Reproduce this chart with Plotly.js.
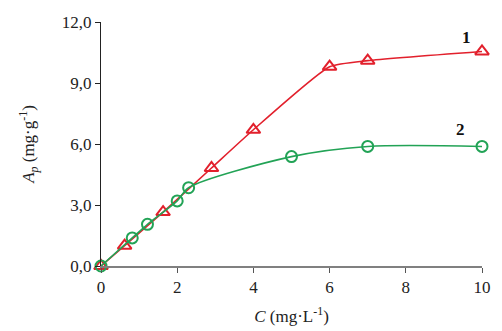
<!DOCTYPE html>
<html><head><meta charset="utf-8">
<script src="https://cdn.plot.ly/plotly-3.0.1.min.js"></script>
<style>html,body{margin:0;padding:0;background:#fff}#chart{width:502px;height:331px}</style>
</head><body><div id="chart"></div>
<script>
const x1 = [0, 0.62, 1.63, 2.9, 4.0, 6.0, 7.0, 10.0];
const y1 = [0, 1.0, 2.65, 4.82, 6.7, 9.8, 10.1, 10.55];
const x2 = [0, 0.82, 1.22, 2.0, 2.3, 5.0, 7.0, 10.0];
const y2 = [0, 1.38, 2.05, 3.2, 3.85, 5.38, 5.88, 5.88];
const yTicks = [0, 3, 6, 9, 12];
const yTickText = ["0,0", "3,0", "6,0", "9,0", "12,0"];
const xTicks = [0, 2, 4, 6, 8, 10];
const seriesLabels = ["1", "2"];
const red = "#e2202c", green = "#22a356";
const font = "'Liberation Serif', 'Times New Roman', serif";
const f16 = {family: font, size: 17, color: "#222"};
const traces = [
  {x: x1, y: y1, type: "scatter", mode: "lines+markers", cliponaxis: false,
   line: {color: red, width: 1.6, shape: "spline", smoothing: 0.5},
   marker: {symbol: "triangle-up-open", size: 12, color: red, line: {width: 2, color: red}}},
  {x: x2, y: y2, type: "scatter", mode: "lines+markers", cliponaxis: false,
   line: {color: green, width: 1.6, shape: "spline", smoothing: 0.8},
   marker: {symbol: "circle-open", size: 11, color: green, line: {width: 2, color: green}}}
];
const layout = {
  width: 502, height: 331,
  margin: {l: 101, r: 20, t: 22, b: 65},
  paper_bgcolor: "#fff", plot_bgcolor: "#fff",
  showlegend: false,
  font: f16,
  xaxis: {range: [0, 10], tickvals: xTicks, ticks: "outside", ticklen: 5, tickcolor: "#555",
    showline: true, linecolor: "#808080", linewidth: 2, showgrid: false, zeroline: false,
    tickfont: f16,
    title: {text: "<i>C</i> (mg·L<sup>-1</sup>)", font: f16, standoff: 14}},
  yaxis: {range: [0, 12], tickvals: yTicks, ticktext: yTickText, ticks: "outside", ticklen: 5, tickcolor: "#222",
    showline: true, linecolor: "#222", linewidth: 1.2, showgrid: false, zeroline: false,
    tickfont: f16,
    title: {text: "<i>A<sub>p</sub></i> (mg·g<sup>-1</sup>)", font: f16, standoff: 22}},
  annotations: [
    {x: x1[x1.length - 1], y: y1[y1.length - 1], text: "<b>" + seriesLabels[0] + "</b>", showarrow: false,
     xanchor: "center", yanchor: "bottom", xshift: -16, yshift: 2, font: {family: font, size: 17, color: "#111"}},
    {x: x2[x2.length - 1], y: y2[y2.length - 1], text: "<b>" + seriesLabels[1] + "</b>", showarrow: false,
     xanchor: "center", yanchor: "bottom", xshift: -22, yshift: 5, font: {family: font, size: 17, color: "#111"}}
  ]
};
Plotly.newPlot("chart", traces, layout, {displayModeBar: false, staticPlot: true});
</script></body></html>
